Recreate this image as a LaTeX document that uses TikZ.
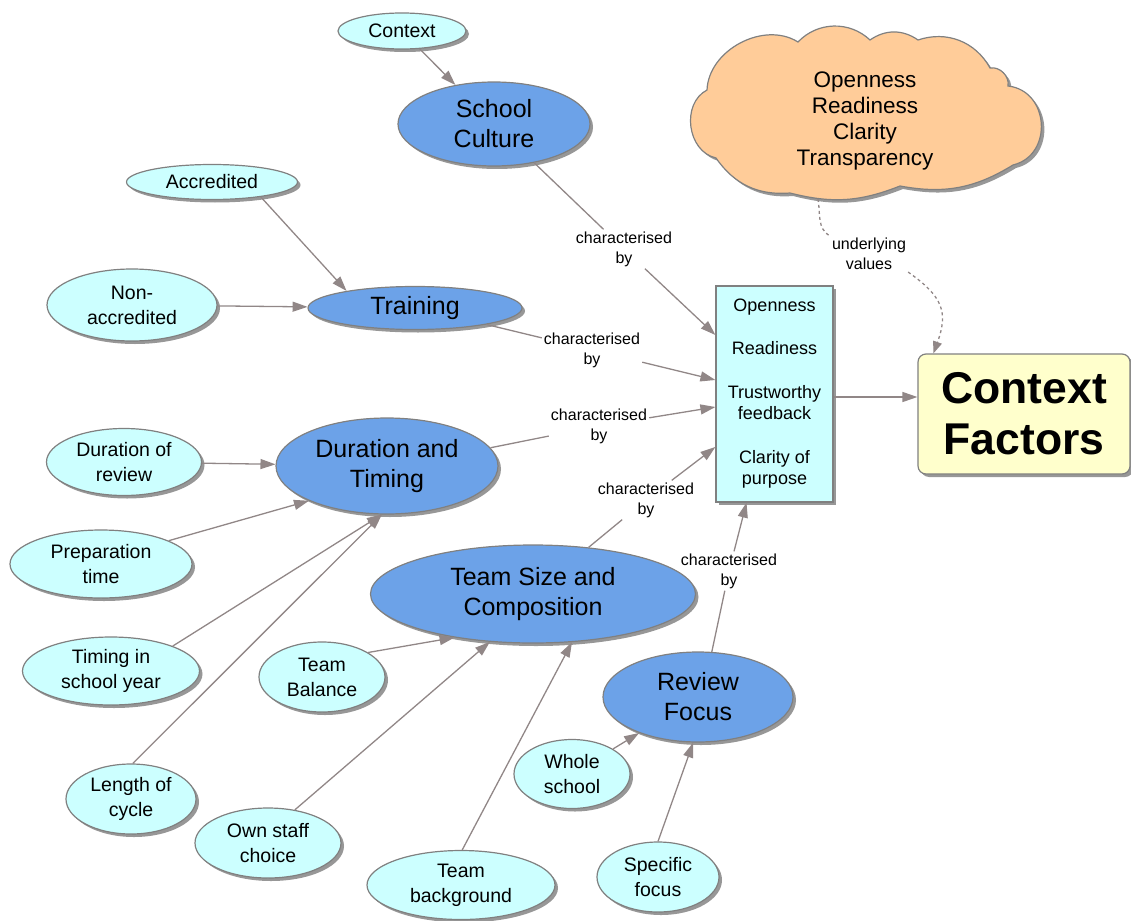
\documentclass[tikz,border=0pt]{standalone}
\usepackage{fontspec}
\setmainfont{Liberation Sans}
\usetikzlibrary{shapes.geometric,shadows,arrows.meta,calc}
\definecolor{cyanfill}{RGB}{204,255,255}
\definecolor{bluefill}{RGB}{108,162,232}
\definecolor{bordergray}{RGB}{128,128,128}
\definecolor{edgegray}{RGB}{145,135,135}
\definecolor{peach}{RGB}{255,204,153}
\definecolor{paleyellow}{RGB}{255,255,204}
\tikzset{
  shad/.style={drop shadow={shadow xshift=3pt,shadow yshift=-3pt,fill=black!45,opacity=0.9}},
  leaf/.style={ellipse,draw=bordergray,line width=1.2pt,fill=cyanfill,shad,inner sep=0pt,align=center,
    font=\fontsize{19.5}{25}\selectfont},
  concept/.style={ellipse,draw=bordergray,line width=1.2pt,fill=bluefill,shad,inner sep=0pt,align=center,
    font=\fontsize{25}{30}\selectfont},
  lbl/.style={align=center,inner sep=2pt,font=\fontsize{16}{20}\selectfont},
  conn/.style={draw=edgegray,line width=1.3pt},
  arr/.style={conn,-{Triangle[length=15pt,width=10pt]}},
  dline/.style={draw=edgegray,line width=1.3pt,dash pattern=on 3pt off 3pt},
}
\begin{document}
\begin{tikzpicture}[x=1pt,y=1pt]
\useasboundingbox (0,0) rectangle (1131,-920);
% cloud
\draw[draw=bordergray,line width=1.2pt,fill=peach,shad]
  (716,-158) to[bend left=70,looseness=1.1] (707,-90) to[bend left=60] (798,-42) to[bend left=45] (870,-40)
  to[bend left=35] (918,-40) to[bend left=40] (990,-68) to[bend left=55] (1008,-86)
  to[bend left=80,looseness=1.35] (1013,-165) to[bend left=21] (900,-186) to[bend left=18] (790,-193)
  to[bend left=30] (716,-158) -- cycle;
\coordinate (cloudb) at (818,-199);
\node[align=center,inner sep=0pt,font=\fontsize{22.5}{26}\selectfont] (cloud) at (865,-121)
  {Openness\\Readiness\\Clarity\\Transparency};
% nodes
\node[leaf,minimum width=128pt,minimum height=36pt] (ctx) at (402,-31) {Context};
\node[concept,minimum width=192pt,minimum height=84pt] (sc) at (494,-124) {School\\Culture};
\node[leaf,minimum width=171pt,minimum height=35pt] (acc) at (212,-182) {Accredited};
\node[leaf,minimum width=170pt,minimum height=72pt] (non) at (132,-305) {Non-\\accredited};
\node[concept,minimum width=214pt,minimum height=43pt] (tr) at (415,-308) {Training};
\node[leaf,minimum width=155pt,minimum height=67pt] (dur) at (124,-462) {Duration of\\review};
\node[concept,minimum width=222pt,minimum height=96pt] (dt) at (387,-466) {Duration and\\Timing};
\node[leaf,minimum width=182pt,minimum height=68pt] (prep) at (101,-564) {Preparation\\time};
\node[leaf,minimum width=177pt,minimum height=68pt] (tim) at (111,-671) {Timing in\\school year};
\node[leaf,minimum width=126pt,minimum height=70pt] (tb) at (322,-677) {Team\\Balance};
\node[concept,minimum width=325pt,minimum height=98pt] (tsc) at (533,-594) {Team Size and\\Composition};
\node[concept,minimum width=190pt,minimum height=90pt] (rf) at (698,-697) {Review\\Focus};
\node[leaf,minimum width=130pt,minimum height=70pt] (loc) at (131,-799) {Length of\\cycle};
\node[leaf,minimum width=146pt,minimum height=70pt] (own) at (268,-843) {Own staff\\choice};
\node[leaf,minimum width=116pt,minimum height=69pt] (ws) at (572,-774) {Whole\\school};
\node[leaf,minimum width=188pt,minimum height=69pt] (tbg) at (461,-885) {Team\\background};
\node[leaf,minimum width=122pt,minimum height=70pt] (sf) at (658,-877) {Specific\\focus};
\node[rectangle,draw=bordergray,line width=1.2pt,fill=cyanfill,shad,minimum width=117pt,minimum height=216pt,
  inner sep=0pt,align=center,font=\fontsize{18}{21}\selectfont] (box) at (774.5,-394)
  {Openness\\[22pt]Readiness\\[23pt]Trustworthy\\feedback\\[23pt]Clarity of\\purpose};
\node[rectangle,rounded corners=8pt,draw=bordergray,line width=1.2pt,fill=paleyellow,shad,minimum width=212pt,
  minimum height=120pt,inner sep=0pt,align=center,font=\fontsize{44.5}{51}\selectfont\bfseries] (cf) at (1024,-414)
  {Context\\Factors};
% link labels
\node[lbl] (l1) at (624,-249) {characterised\\by};
\node[lbl] (l2) at (592,-350) {characterised\\by};
\node[lbl] (l3) at (599,-426) {characterised\\by};
\node[lbl] (l4) at (646,-500) {characterised\\by};
\node[lbl] (l5) at (729,-571) {characterised\\by};
\node[lbl] (uv) at (869,-254) {underlying\\values};
% connectors
\draw[arr] (ctx) -- (sc);
\draw[arr] (acc.-17) -- (tr.166);
\draw[arr] (non) -- (tr);
\draw[arr] (dur) -- (dt);
\draw[arr] (prep.19) -- (dt.-156);
\draw[arr] (tim.22) -- (dt.-96);
\draw[arr] (loc.87) -- (dt.-96);
\draw[arr] (tb.28) -- (tsc.-151);
\draw[arr] (own.51) -- (tsc.-132);
\draw[arr] (tbg.88) -- (tsc.-51);
\draw[arr] (ws) -- (rf);
\draw[arr] (sf.90) -- (rf.-96);
\draw[conn] (sc.-44) -- (l1);
\draw[arr] (l1) -- ([yshift=59pt]box.west);
\draw[conn] (tr.-13) -- (l2);
\draw[arr] (l2) -- ([yshift=14pt]box.west);
\draw[conn] (dt.10) -- (l3);
\draw[arr] (l3) -- ([yshift=-13pt]box.west);
\draw[conn] (tsc.40) -- (l4);
\draw[arr] (l4) -- ([yshift=-53pt]box.west);
\draw[conn] (rf.73) -- (l5);
\draw[arr] (l5) -- ([xshift=-28pt]box.south);
\draw[arr] ([yshift=-3pt]box.east) -- ([yshift=-3pt]cf.west |- box.east);
\draw[dline] (cloudb) to[out=-80,in=150] (uv.north west);
\draw[dline,-{Triangle[length=12pt,width=9pt]}] (uv.south east) to[out=-35,in=70,looseness=1.3] ($(cf.north west)+(16,0)$);
\end{tikzpicture}
\end{document}
